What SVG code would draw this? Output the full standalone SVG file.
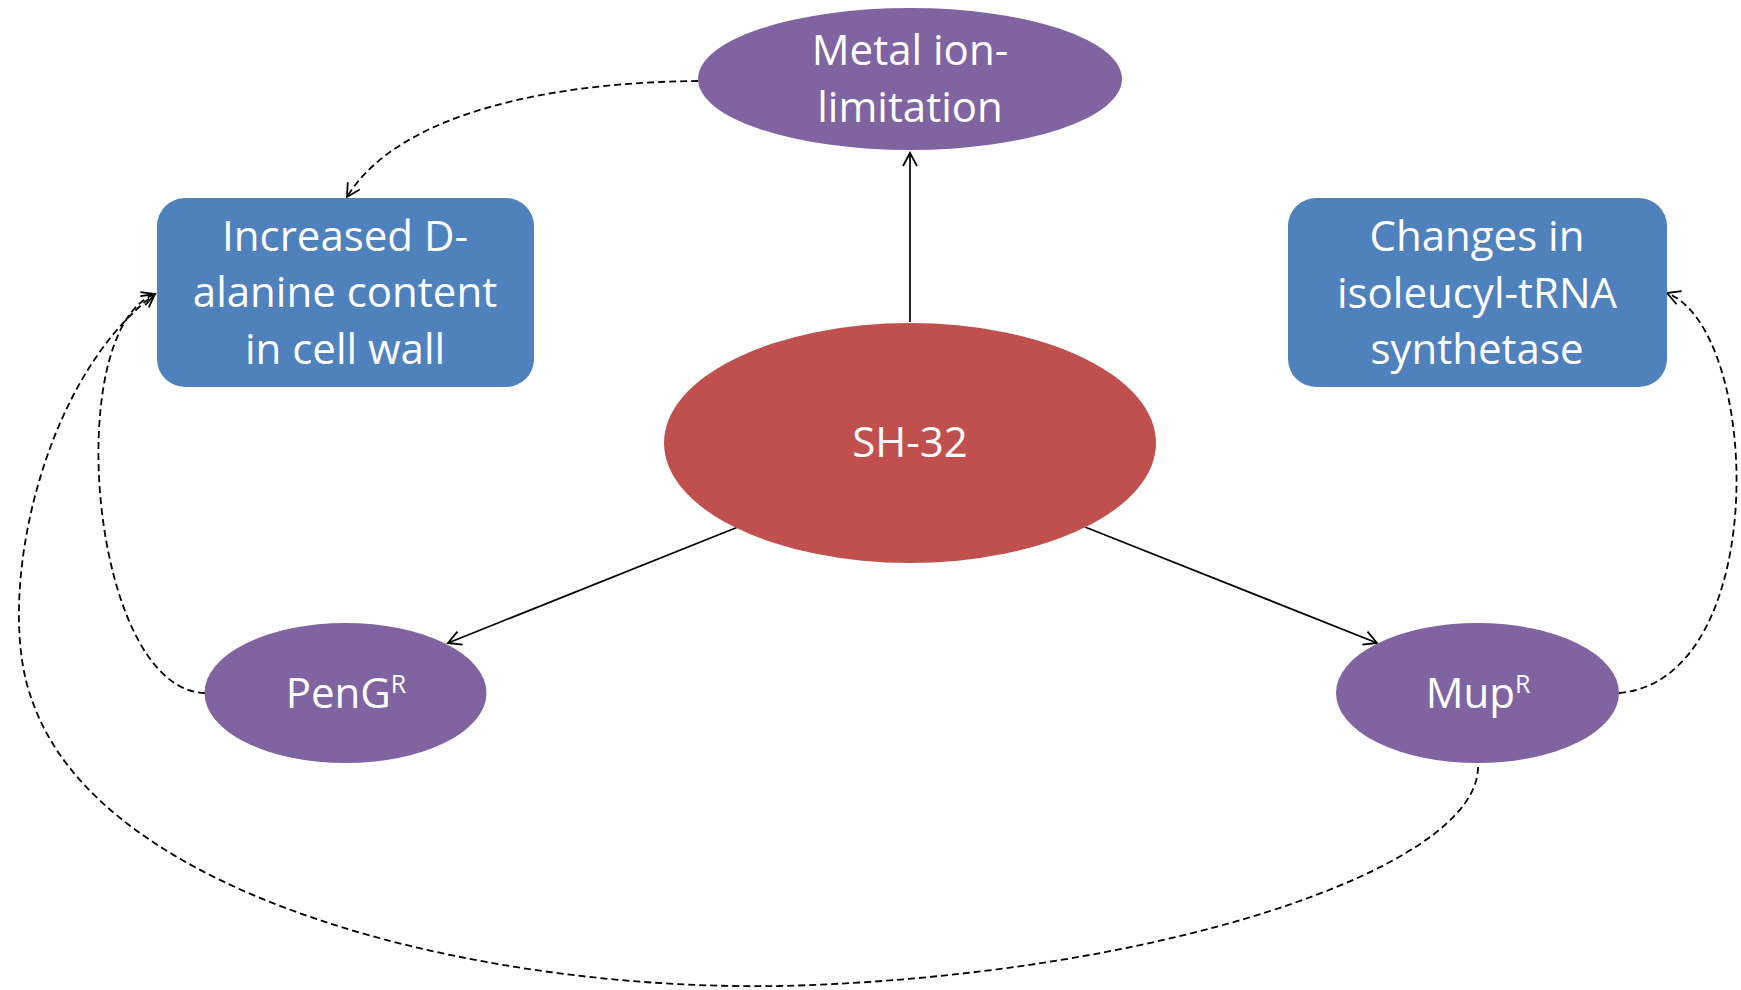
<svg xmlns="http://www.w3.org/2000/svg" width="1741" height="990" viewBox="0 0 1741 990">
<style>
.t{font-family:"Open Sans","Liberation Sans",sans-serif;font-size:42px;fill:#ffffff;text-anchor:middle}
.sup{font-size:25px}
.purple{fill:#8064A2}
.red{fill:#C0504D}
.blue{fill:#4F81BD}
.solid{fill:none;stroke:#000;stroke-width:1.7;marker-end:url(#arr)}
.dash{fill:none;stroke:#000;stroke-width:1.8;stroke-dasharray:7,4;marker-end:url(#arr)}
</style>
<defs>
<marker id="arr" markerWidth="16" markerHeight="16" refX="14" refY="8" orient="auto" markerUnits="userSpaceOnUse">
<path d="M1,1 L14,8 L1,15" fill="none" stroke="#000" stroke-width="1.8"/>
</marker>
</defs>
<rect width="1741" height="990" fill="#ffffff"/>
<g id="connectors">
<line class="solid" x1="910" y1="322" x2="910" y2="153"/>
<line class="solid" x1="738" y1="527" x2="448" y2="643"/>
<line class="solid" x1="1085" y1="527" x2="1377" y2="643"/>
<path class="dash" d="M698,81 C560,82 400,110 347,197"/>
<path class="dash" d="M205,693 C90,690 60,330 155,294"/>
<path class="dash" d="M1478,767 C1478,870 1150,977 780,986 C480,991 100,900 32,700 C-6,600 40,380 155,294"/>
<path class="dash" d="M1619,693 C1772,680 1762,330 1667,293"/>
</g>
<g id="metal">
<ellipse class="purple" cx="910" cy="79" rx="212" ry="71"/>
<text class="t" x="910" y="65">Metal ion-</text>
<text class="t" x="910" y="122">limitation</text>
</g>
<g id="dalanine">
<rect class="blue" x="157" y="198" width="377" height="189" rx="28"/>
<text class="t" x="345" y="251">Increased D-</text>
<text class="t" x="345" y="307">alanine content</text>
<text class="t" x="345" y="364">in cell wall</text>
</g>
<g id="changes">
<rect class="blue" x="1288" y="198" width="379" height="189" rx="28"/>
<text class="t" x="1477" y="251">Changes in</text>
<text class="t" x="1477" y="308">isoleucyl-tRNA</text>
<text class="t" x="1477" y="364">synthetase</text>
</g>
<g id="sh32">
<ellipse class="red" cx="910" cy="443" rx="246" ry="120"/>
<text class="t" x="910" y="457">SH-32</text>
</g>
<g id="peng">
<ellipse class="purple" cx="345.5" cy="693" rx="141" ry="70"/>
<text class="t" x="346" y="708">PenG<tspan class="sup" dy="-15">R</tspan></text>
</g>
<g id="mup">
<ellipse class="purple" cx="1477.5" cy="693" rx="141.5" ry="70"/>
<text class="t" x="1478" y="708">Mup<tspan class="sup" dy="-15">R</tspan></text>
</g>
</svg>
